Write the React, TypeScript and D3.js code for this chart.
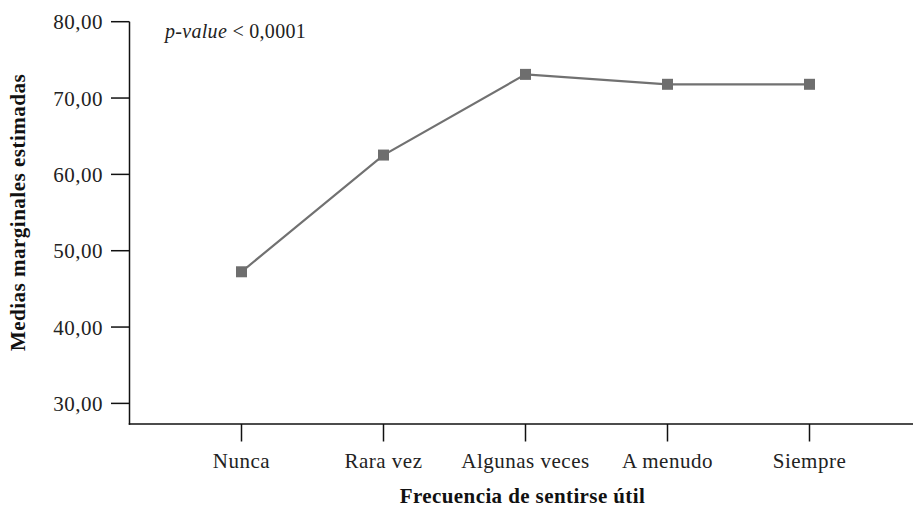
import React from "react";
import * as d3 from "d3";

const categories = ["Nunca", "Rara vez", "Algunas veces", "A menudo", "Siempre"];
const values = [47.24, 62.53, 73.1, 71.8, 71.8];
const yTicks = [30, 40, 50, 60, 70, 80];
const xTitle = "Frecuencia de sentirse útil";
const yTitle = "Medias marginales estimadas";

const W = 913;
const H = 508;
const SERIF = "'Liberation Serif', 'Times New Roman', serif";

export default function App() {
  const axisX = 129.5;
  const axisY = 424;
  const x = d3.scalePoint<string>().domain(categories).range([241.5, 809.5]);
  const y = d3.scaleLinear().domain([27.3, 80]).range([axisY, 21.7]);
  const fmt = (v: number) => d3.format(".2f")(v).replace(".", ",");
  const line = d3
    .line<number>()
    .x((_, i) => x(categories[i]) as number)
    .y((d) => y(d));
  const ms = 11;
  const lineColor = "#717171";

  return (
    <svg
      width={W}
      height={H}
      style={{ position: "absolute", left: 0, top: 0, background: "#fff" }}
      fontFamily={SERIF}
    >
      {/* y axis */}
      <line x1={axisX} x2={axisX} y1={y(80)} y2={axisY + 0.75} stroke="#111" strokeWidth={1.5} />
      {yTicks.map((t) => (
        <g key={t}>
          <line x1={111} x2={axisX} y1={y(t)} y2={y(t)} stroke="#111" strokeWidth={1.5} />
          <text
            x={103}
            y={y(t) + 7.5}
            textAnchor="end"
            fontSize={21}
            letterSpacing={0.5}
            fill="#222"
          >
            {fmt(t)}
          </text>
        </g>
      ))}
      {/* x axis */}
      <line x1={axisX - 0.75} x2={W} y1={axisY} y2={axisY} stroke="#111" strokeWidth={1.5} />
      {categories.map((c) => (
        <g key={c}>
          <line x1={x(c)} x2={x(c)} y1={axisY} y2={axisY + 17.5} stroke="#111" strokeWidth={1.5} />
          <text
            x={x(c)}
            y={468}
            textAnchor="middle"
            fontSize={21}
            letterSpacing={0.5}
            fill="#222"
          >
            {c}
          </text>
        </g>
      ))}
      {/* titles */}
      <text
        x={(399 + 646) / 2}
        y={503}
        textAnchor="middle"
        fontSize={21}
        fontWeight="bold"
        letterSpacing={0.4}
        fill="#111"
      >
        {xTitle}
      </text>
      <text
        transform={`translate(25,212.5) rotate(-90)`}
        textAnchor="middle"
        fontSize={21}
        fontWeight="bold"
        letterSpacing={0.5}
        fill="#111"
      >
        {yTitle}
      </text>
      {/* p-value */}
      <text x={165} y={38} fontSize={20} letterSpacing={0.3} fill="#222">
        <tspan fontStyle="italic">p-value</tspan>
        <tspan>{" < 0,0001"}</tspan>
      </text>
      {/* line */}
      <path d={line(values) || ""} fill="none" stroke={lineColor} strokeWidth={2.2} />
      {values.map((v, i) => (
        <rect
          key={categories[i]}
          x={(x(categories[i]) as number) - ms / 2}
          y={y(v) - ms / 2}
          width={ms}
          height={ms}
          fill="#6e6e6e"
        />
      ))}
    </svg>
  );
}
